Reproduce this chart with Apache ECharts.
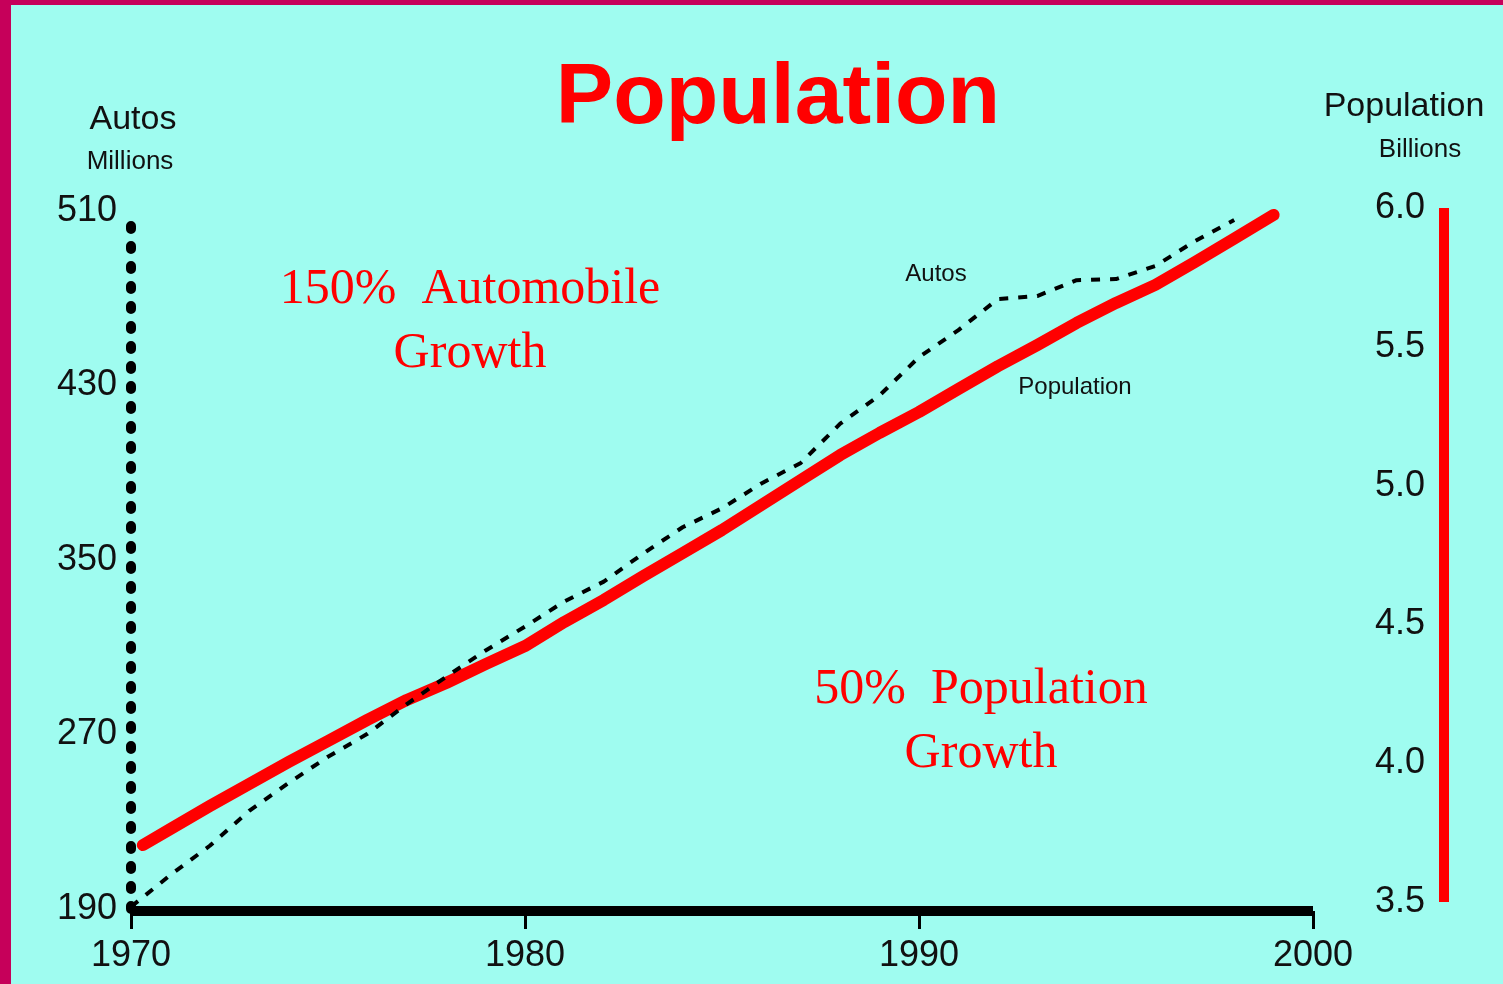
<!DOCTYPE html>
<html>
<head>
<meta charset="utf-8">
<script src="https://cdn.jsdelivr.net/npm/echarts@6/dist/echarts.min.js"></script>
<style>
html,body{margin:0;padding:0;background:#9ffcf0;}
#chart{width:1503px;height:984px;}
</style>
</head>
<body>
<div id="chart"></div>
<script>
// ---- data ----
var autoYears = [1970,1971,1972,1973,1974,1975,1976,1977,1978,1979,1980,1981,1982,1983,1984,1985,1986,1987,1988,1989,1990,1991,1992,1993,1994,1995,1996,1997,1998];
var autos = [191,205.6,219,235,247.8,259.8,270.3,283.9,296.5,308.5,319.5,331,340.1,353,365,373.7,385.1,394.5,412.5,425.5,443,455.4,469.6,471,478.3,478.8,484.8,496.2,505.9];
var popYears = [1970.3,1971,1972,1973,1974,1975,1976,1977,1978,1979,1980,1981,1982,1983,1984,1985,1986,1987,1988,1989,1990,1991,1992,1993,1994,1995,1996,1997,1998,1999];
var population = [3.705,3.763,3.846,3.925,4.004,4.08,4.156,4.228,4.289,4.357,4.422,4.509,4.588,4.674,4.757,4.84,4.93,5.02,5.11,5.19,5.265,5.348,5.43,5.506,5.586,5.658,5.723,5.805,5.89,5.975];
var xTicks = [1970,1980,1990,2000];
var autoTicks = [190,270,350,430,510];
var popTicks = [3.5,4.0,4.5,5.0,5.5,6.0];

var autoData = autoYears.map(function(y,i){return [y, autos[i]];});
var popData = popYears.map(function(y,i){return [y, population[i]];});

var chart = echarts.init(document.getElementById('chart'));
var labelFont = '"Liberation Sans", Arial, sans-serif';
var option = {
  backgroundColor: '#9ffcf0',
  animation: false,
  grid: [
    {left: 131, right: 190, top: 211, bottom: 75},
    {left: 131, right: 190, top: 208, bottom: 82}
  ],
  xAxis: [
    {
      type: 'value', gridIndex: 0, min: xTicks[0], max: xTicks[xTicks.length-1], interval: 10,
      offset: 2,
      axisLine: {show: true, onZero: false, lineStyle: {color: '#000', width: 10, cap: 'butt'}},
      axisTick: {show: true, inside: false, length: 18, lineStyle: {color: '#000', width: 3}},
      axisLabel: {color: '#111', fontFamily: labelFont, fontSize: 36, margin: 27,
        formatter: function(v){return String(v);}},
      splitLine: {show: false}
    },
    {
      type: 'value', gridIndex: 1, min: xTicks[0], max: xTicks[xTicks.length-1], show: false
    }
  ],
  yAxis: [
    {
      type: 'value', gridIndex: 0, min: autoTicks[0], max: autoTicks[autoTicks.length-1],
      position: 'left',
      axisLine: {show: true, onZero: false, lineStyle: {color: '#000', width: 10, type: [3, 17], cap: 'round'}},
      axisTick: {show: false},
      axisLabel: {customValues: autoTicks, color: '#111', fontFamily: labelFont, fontSize: 36, margin: 14},
      splitLine: {show: false}
    },
    {
      type: 'value', gridIndex: 1, min: popTicks[0], max: popTicks[popTicks.length-1], interval: 0.5,
      position: 'right', offset: 131,
      axisLine: {show: true, onZero: false, lineStyle: {color: '#ff0000', width: 10, cap: 'butt'}},
      axisTick: {show: false},
      axisLabel: {inside: true, color: '#111', fontFamily: labelFont, fontSize: 36, margin: 19,
        formatter: function(v){return v.toFixed(1);}},
      splitLine: {show: false}
    }
  ],
  series: [
    {
      name: 'Population', type: 'line', xAxisIndex: 1, yAxisIndex: 1,
      data: popData, showSymbol: false, clip: false,
      lineStyle: {color: '#ff0000', width: 12, cap: 'round', join: 'round'},
      z: 3
    },
    {
      name: 'Autos', type: 'line', xAxisIndex: 0, yAxisIndex: 0,
      data: autoData, showSymbol: false, clip: false,
      lineStyle: {color: '#000', width: 4, type: [9, 10]},
      z: 4
    }
  ],
  graphic: [
    {type: 'rect', shape: {x: 0, y: 0, width: 11, height: 984}, style: {fill: '#c6005a'}, z: 100},
    {type: 'rect', shape: {x: 0, y: 0, width: 1503, height: 5}, style: {fill: '#c6005a'}, z: 100},
    {type: 'text', x: 778, y: 99, style: {text: 'Population', fill: '#ff0000',
      font: 'bold 86px "Liberation Sans", Arial, sans-serif', align: 'center', verticalAlign: 'middle'}},
    {type: 'text', x: 133, y: 120, style: {text: 'Autos', fill: '#111',
      font: '34px "Liberation Sans", Arial, sans-serif', align: 'center', verticalAlign: 'middle'}},
    {type: 'text', x: 130, y: 162, style: {text: 'Millions', fill: '#111',
      font: '26px "Liberation Sans", Arial, sans-serif', align: 'center', verticalAlign: 'middle'}},
    {type: 'text', x: 1404, y: 107, style: {text: 'Population', fill: '#111',
      font: '34px "Liberation Sans", Arial, sans-serif', align: 'center', verticalAlign: 'middle'}},
    {type: 'text', x: 1420, y: 150, style: {text: 'Billions', fill: '#111',
      font: '26px "Liberation Sans", Arial, sans-serif', align: 'center', verticalAlign: 'middle'}},
    {type: 'text', x: 936, y: 274, style: {text: 'Autos', fill: '#111',
      font: '24px "Liberation Sans", Arial, sans-serif', align: 'center', verticalAlign: 'middle'}},
    {type: 'text', x: 1075, y: 387, style: {text: 'Population', fill: '#111',
      font: '24px "Liberation Sans", Arial, sans-serif', align: 'center', verticalAlign: 'middle'}},
    {type: 'text', x: 470, y: 322, style: {text: '150%  Automobile\nGrowth', fill: '#ff0000',
      font: '50px "Liberation Serif", "Times New Roman", serif', lineHeight: 64, align: 'center', verticalAlign: 'middle'}},
    {type: 'text', x: 981, y: 722, style: {text: '50%  Population\nGrowth', fill: '#ff0000',
      font: '50px "Liberation Serif", "Times New Roman", serif', lineHeight: 64, align: 'center', verticalAlign: 'middle'}}
  ]
};
chart.setOption(option);
</script>
</body>
</html>
